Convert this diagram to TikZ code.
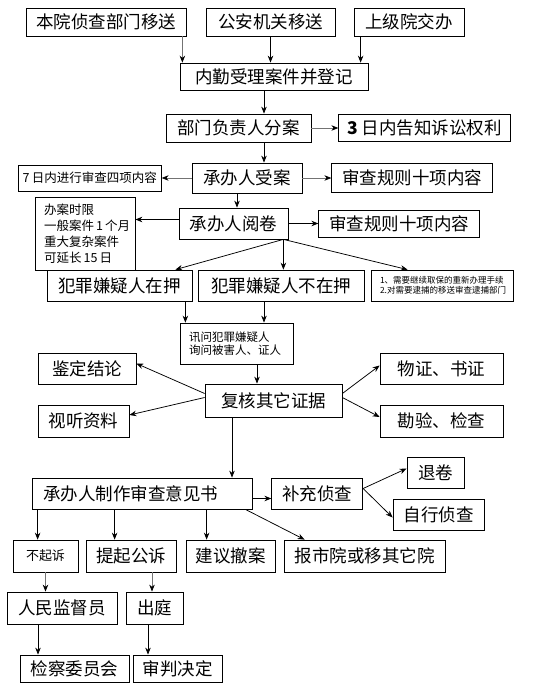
\documentclass[tikz,border=0pt]{standalone}
\usepackage{fontspec}
\setmainfont{Noto Sans CJK SC}
\usepackage{tikz}
\usetikzlibrary{arrows.meta, positioning}
\newcommand{\boxfont}{\fontsize{17.5pt}{20pt}\selectfont}
\newcommand{\midfont}{\fontsize{12.5pt}{16pt}\selectfont}
\newcommand{\notefont}{\fontsize{11.5pt}{13.5pt}\selectfont}
\newcommand{\tinyfont}{\fontsize{8.5pt}{9.5pt}\selectfont}
\tikzset{
  box/.style={rectangle, draw=black, line width=0.75pt, fill=white,
              inner sep=0pt, text centered, font=\boxfont, minimum height=31pt},
  notebox/.style={box, align=left, inner xsep=9pt},
  arrow/.style={-{Stealth[length=7pt, width=5.5pt]}, line width=0.75pt},
  greyarrow/.style={-{Stealth[length=7pt, width=5.5pt, color=black]}, line width=0.75pt, draw=black!55},
}

\begin{document}
\begin{tikzpicture}[x=1pt, y=-1pt]
  \useasboundingbox (0,0) rectangle (553,683);

  % Source row
  \node[box, minimum width=160pt, minimum height=28pt] (benyuan) at (106,22) {本院侦查部门移送};
  \node[box, minimum width=129pt, minimum height=28pt] (gongan) at (270.5,22) {公安机关移送};
  \node[box, minimum width=110pt, minimum height=28pt] (shangji) at (409,22) {上级院交办};

  % Registration and assignment
  \node[box, minimum width=188pt, minimum height=27pt] (neiqin) at (274,76.5) {内勤受理案件并登记};
  \node[box, minimum width=145pt, minimum height=28pt] (fenan) at (238.5,128) {部门负责人分案};
  \node[box, minimum width=172pt, minimum height=27pt, right=27pt of fenan] (gaozhi) {{\bfseries 3}\,日内告知诉讼权利};

  % Acceptance
  \node[box, minimum width=110pt, minimum height=30pt] (shouan) at (247,178) {承办人受案};
  \node[box, font=\midfont, minimum width=143pt, minimum height=26pt, left=30pt of shouan] (qiri) {7\,日内进行审查四项内容};
  \node[box, minimum width=161pt, minimum height=29pt, right=29pt of shouan] (guize1) {审查规则十项内容};

  % Reading the file
  \node[box, minimum width=109pt] (yuejuan) at (233.5,223.5) {承办人阅卷};
  \node[box, minimum width=161pt, minimum height=27pt, right=30pt of yuejuan] (guize2) {审查规则十项内容};
  \node[notebox, font=\midfont, text width=82pt, minimum height=73pt, inner xsep=9pt] (shixian) at (85,233.5)
    {办案时限\\一般案件\,1\,个月\\重大复杂案件\\可延长\,15\,日};

  % Custody
  \node[box, minimum width=145pt] (zaiya) at (119.5,285.5) {犯罪嫌疑人在押};
  \node[box, minimum width=166pt] (buzaiya) at (281,285.5) {犯罪嫌疑人不在押};
  \node[notebox, font=\tinyfont, text width=124pt, minimum height=31pt] (xuyao) at (442,285.5)
    {1、需要继续取保的重新办理手续\\2.对需要逮捕的移送审查逮捕部门};

  % Questioning and evidence
  \node[notebox, font=\notefont, text width=95pt, minimum height=41pt] (xunwen) at (236.5,343.5)
    {讯问犯罪嫌疑人\\询问被害人、证人};
  \node[box, minimum width=137pt, minimum height=33pt] (fuhe) at (273.5,400.5) {复核其它证据};
  \node[box, minimum width=98pt] (jianding) at (87,368.5) {鉴定结论};
  \node[box, minimum width=91pt, minimum height=32pt] (shiting) at (83.5,421) {视听资料};
  \node[box, minimum width=123pt] (wuzheng) at (441.5,368.5) {物证、书证};
  \node[box, minimum width=123pt, minimum height=32pt] (kanyan) at (441.5,421) {勘验、检查};

  % Review opinion
  \node[box, align=left, text width=198pt, inner xsep=11pt] (zhizuo) at (142,493.5) {承办人制作审查意见书};
  \node[box, minimum width=91pt, right=19pt of zhizuo] (buchong) {补充侦查};
  \node[box, minimum width=57pt] (tuijuan) at (435.5,472.5) {退卷};
  \node[box, minimum width=91pt] (zixing) at (438.5,514.5) {自行侦查};

  % Decisions
  \node[box, font=\fontsize{13pt}{15pt}\selectfont, minimum width=65pt, minimum height=32pt] (buqisu) at (45.5,556) {不起诉};
  \node[box, minimum width=90pt, minimum height=32pt] (tiqi) at (131,556) {提起公诉};
  \node[box, minimum width=89pt, minimum height=32pt] (chean) at (230.5,556) {建议撤案};
  \node[box, minimum width=161pt, minimum height=32pt] (baoshi) at (364.5,556) {报市院或移其它院};
  \node[box, minimum width=110pt, minimum height=32pt] (jiandu) at (62,608) {人民监督员};
  \node[box, minimum width=57pt, minimum height=32pt] (chuting) at (154.5,608) {出庭};
  \node[box, minimum width=109pt, minimum height=27pt] (weiyuan) at (74.5,668.5) {检察委员会};
  \node[box, minimum width=89pt, minimum height=27pt] (shenpan) at (177.5,668.5) {审判决定};

  % Arrows
  \draw[greyarrow] ([xshift=-4pt]benyuan.south east) -- ([xshift=-4pt]benyuan.south east |- neiqin.north);
  \draw[arrow] (gongan.south) -- (gongan.south |- neiqin.north);
  \draw[arrow] ([xshift=7pt]shangji.south west) -- ([xshift=7pt]shangji.south west |- neiqin.north);
  \draw[arrow] ([xshift=-10pt]neiqin.south) -- ([xshift=-10pt]neiqin.south |- fenan.north);
  \draw[greyarrow] (fenan) -- (gaozhi);
  \draw[arrow] ([xshift=25.5pt]fenan.south) -- ([xshift=25.5pt]fenan.south |- shouan.north);
  \draw[greyarrow] (shouan) -- (qiri);
  \draw[greyarrow] (shouan) -- (guize1);
  \draw[arrow] ([xshift=-10pt]shouan.south) -- ([xshift=-10pt]shouan.south |- yuejuan.north);
  \draw[arrow] ([yshift=4pt]yuejuan.west) -- ([yshift=4pt]yuejuan.west -| shixian.east);
  \draw[arrow] (yuejuan) -- (guize2);
  \coordinate (fan) at ([xshift=-5pt]yuejuan.south east);
  \draw[arrow] (fan) -- ([xshift=-17pt]zaiya.north east);
  \draw[arrow] (fan) -- (fan |- buzaiya.north);
  \draw[arrow] (fan) -- ([xshift=37pt]xuyao.north west);
  \draw[arrow] ([xshift=-7pt]zaiya.south east) -- ([xshift=-7pt]zaiya.south east |- xunwen.north);
  \draw[arrow] ([xshift=-17pt]buzaiya.south) -- ([xshift=-17pt]buzaiya.south |- xunwen.north);
  \draw[arrow] ([xshift=20.5pt]xunwen.south) -- ([xshift=20.5pt]xunwen.south |- fuhe.north);
  \draw[arrow] ([yshift=7pt]fuhe.west) -- ([yshift=5pt]jianding.east);
  \draw[arrow] ([yshift=3pt]fuhe.west) -- ([yshift=6pt]shiting.east);
  \draw[arrow] ([yshift=7pt]fuhe.east) -- ([yshift=3pt]wuzheng.west);
  \draw[arrow] ([yshift=3pt]fuhe.east) -- ([yshift=4pt]kanyan.west);
  \draw[arrow] ([xshift=-41.5pt]fuhe.south) -- ([xshift=-41.5pt]fuhe.south |- zhizuo.north);
  \draw[arrow] ([yshift=-5pt]zhizuo.east) -- ([yshift=-5pt]zhizuo.east -| buchong.west);
  \draw[arrow] ([yshift=5pt]buchong.east) -- ([yshift=4pt]tuijuan.west);
  \draw[arrow] ([yshift=5pt]buchong.east) -- ([yshift=-3pt]zixing.west);
  \draw[arrow] ([xshift=6pt]zhizuo.south west) -- ([xshift=6pt]zhizuo.south west |- buqisu.north);
  \draw[arrow] ([xshift=83pt]zhizuo.south west) -- ([xshift=83pt]zhizuo.south west |- tiqi.north);
  \draw[arrow] ([xshift=175pt]zhizuo.south west) -- ([xshift=175pt]zhizuo.south west |- chean.north);
  \draw[arrow] ([xshift=-7pt]zhizuo.south east) -- ([xshift=21pt]baoshi.north west);
  \draw[greyarrow] (buqisu.south) -- (buqisu.south |- jiandu.north);
  \draw[greyarrow] ([xshift=21pt]tiqi.south) -- ([xshift=21pt]tiqi.south |- chuting.north);
  \draw[arrow] ([xshift=-24pt]jiandu.south) -- ([xshift=-24pt]jiandu.south |- weiyuan.north);
  \draw[arrow] ([xshift=-6.5pt]chuting.south) -- ([xshift=-6.5pt]chuting.south |- shenpan.north);

\end{tikzpicture}
\end{document}
